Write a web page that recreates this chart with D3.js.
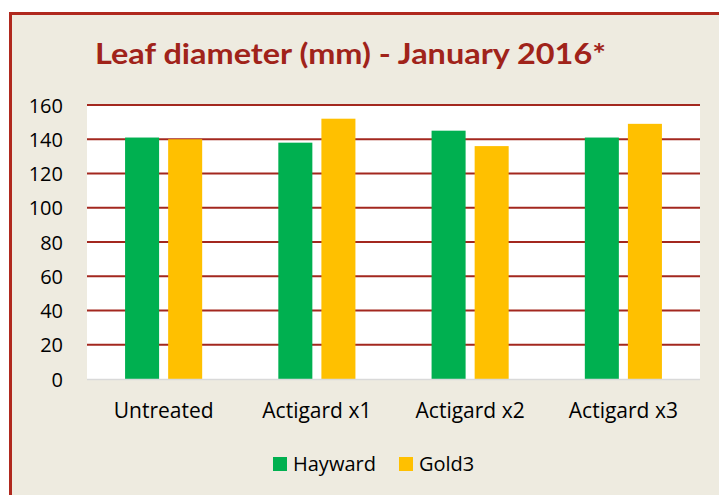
<!DOCTYPE html>
<html>
<head>
<meta charset="utf-8">
<script src="https://cdn.jsdelivr.net/npm/d3@7"></script>
<style>
  body { margin: 0; background: #fff; }
  svg text { font-family: "Open Sans", "Noto Sans", sans-serif; }
</style>
</head>
<body>
<svg id="chart" width="719" height="495"></svg>
<script>
// data
const categories = ["Untreated", "Actigard x1", "Actigard x2", "Actigard x3"];
const seriesNames = ["Hayward", "Gold3"];
const hayward = [141, 138, 145, 141];
const gold3 = [140, 152, 136, 149];
const yTicks = [0, 20, 40, 60, 80, 100, 120, 140, 160];
const colors = ["#00b050", "#ffc000"];

const svg = d3.select("#chart");
const W = 719, H = 495;
const plotL = 87, plotR = 700, plotT = 105, plotB = 379;

// page background + border
svg.append("rect").attr("width", W).attr("height", H).attr("fill", "#fff");
svg.append("rect")
    .attr("x", 10.5).attr("y", 13.5)
    .attr("width", W + 20).attr("height", H + 20)
    .attr("fill", "#eeebe0")
    .attr("stroke", "#b0291e").attr("stroke-width", 3);

svg.append("text")
    .attr("x", 95).attr("y", 64)
    .attr("textLength", 511)
    .attr("lengthAdjust", "spacingAndGlyphs")
    .attr("fill", "#a0231a")
    .style("font-family", "Lato, 'Open Sans', sans-serif")
    .style("font-weight", "bold")
    .style("font-size", "29px")
    .text("Leaf diameter (mm) - January 2016*");

let x = d3.scaleBand().domain(categories).range([plotL, plotR]);
let xs = d3.scaleBand().domain(seriesNames).range([0, x.bandwidth()]).paddingInner(0.21).paddingOuter(0.884);
let y = d3.scaleLinear().domain([0, 160]).range([plotB, plotT]);

svg.append("rect")
    .attr("x", plotL).attr("y", plotT)
    .attr("width", plotR - plotL).attr("height", plotB - plotT)
    .attr("fill", "#fff");

// gridlines
svg.append("g").selectAll("line")
    .data(yTicks.filter(d => d > 0))
    .enter().append("line")
    .attr("x1", plotL).attr("x2", plotR)
    .attr("y1", d => y(d)).attr("y2", d => y(d))
    .attr("stroke", "#a3281f").attr("stroke-width", 2);

const rows = categories.map((c, i) => ({cat: c, vals: [hayward[i], gold3[i]]}));

svg.append("g").selectAll("g")
    .data(rows)
    .enter().append("g")
    .attr("transform", d => `translate(${x(d.cat)},0)`)
    .selectAll("rect")
    .data(d => d.vals.map((v, j) => ({name: seriesNames[j], v: v, j: j})))
    .enter().append("rect")
    .attr("x", d => xs(d.name))
    .attr("width", xs.bandwidth())
    .attr("y", d => y(d.v))
    .attr("height", d => y(0) - y(d.v))
    .attr("fill", d => colors[d.j]);

// baseline
svg.append("line")
    .attr("x1", plotL).attr("x2", plotR)
    .attr("y1", plotB + 0.5).attr("y2", plotB + 0.5)
    .attr("stroke", "#d9d9d9").attr("stroke-width", 1.5);

let y_axis = d3.axisLeft(y).tickValues(yTicks).tickSize(0).tickPadding(0);
svg.append("g")
    .attr("transform", `translate(${63},0)`)
    .call(y_axis)
    .call(g => g.select(".domain").remove())
    .selectAll("text")
    .attr("fill", "#000")
    .style("font-size", "20px")
    .attr("dy", "0.35em");

let x_axis = d3.axisBottom(x).tickSize(0).tickPadding(0);
svg.append("g")
    .attr("transform", `translate(0,${plotB})`)
    .call(x_axis)
    .call(g => g.select(".domain").remove())
    .selectAll("text")
    .attr("fill", "#000")
    .attr("y", 39).attr("dy", 0)
    .style("font-size", "21px");

// legend
const legend = svg.append("g");
const legendX = [273, 399];
seriesNames.forEach((name, i) => {
    legend.append("rect")
        .attr("x", legendX[i]).attr("y", 457)
        .attr("width", 14).attr("height", 14)
        .attr("fill", colors[i]);
    legend.append("text")
        .attr("x", legendX[i] + 20).attr("y", 471)
        .style("font-size", "20px")
        .attr("fill", "#000")
        .text(name);
});
</script>
</body>
</html>
